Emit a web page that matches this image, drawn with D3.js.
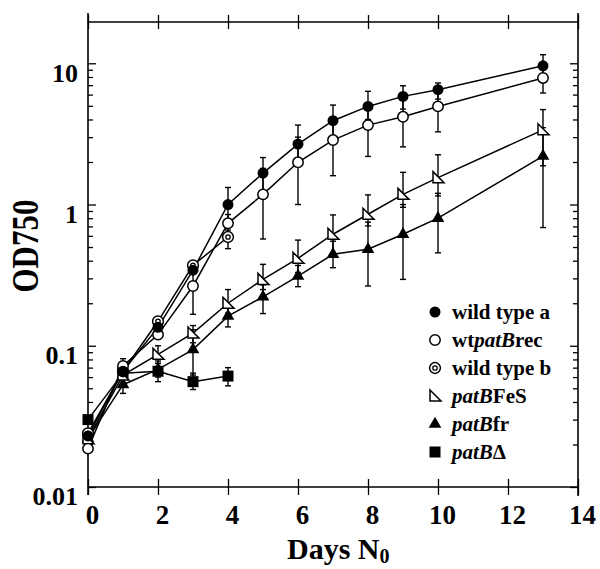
<!DOCTYPE html>
<html><head><meta charset="utf-8">
<script src="https://cdn.jsdelivr.net/npm/d3@7"></script>
<style>
html,body{margin:0;padding:0;background:#fff;}
svg{display:block;}
text{font-family:"Liberation Serif","Times New Roman",serif;font-weight:bold;fill:#000;}
</style></head>
<body>
<svg id="chart" width="600" height="569"></svg>
<script>
// ---------- data ----------
const daysLong = [0, 1, 2, 3, 4, 5, 6, 7, 8, 9, 10, 13];
const daysShort = [0, 1, 2, 3, 4];

const wildTypeA    = [0.023, 0.066, 0.135, 0.343, 1.0, 1.67, 2.68, 3.92, 4.95, 5.83, 6.5, 9.6];
const wildTypeALo  = [null, null, null, null, 0.75, 1.25, 2.0, 3.0, 4.0, 4.74, 5.58, 8.0];
const wildTypeAHi  = [null, null, null, null, 1.32, 2.15, 3.65, 5.06, 6.33, 6.93, 7.25, 11.5];

const wtPatBRec    = [0.0187, 0.072, 0.12, 0.265, 0.736, 1.18, 1.99, 2.86, 3.65, 4.18, 4.95, 7.87];
const wtPatBRecLo  = [null, 0.064, null, 0.167, 0.62, 0.57, 1.0, 1.6, 2.19, 2.56, 3.27, 6.16];
const wtPatBRecHi  = [null, 0.081, null, 0.36, 0.85, 1.8, 3.0, 4.0, 5.1, 5.8, 6.6, 9.5];

const wildTypeB    = [0.024, 0.066, 0.149, 0.371, 0.589];
const wildTypeBLo  = [null, null, null, null, 0.487];
const wildTypeBHi  = [null, null, null, null, 0.66];

const patBFeS      = [0.022, 0.062, 0.087, 0.123, 0.20, 0.295, 0.416, 0.616, 0.853, 1.18, 1.55, 3.38];
const patBFeSLo    = [null, null, 0.075, 0.105, 0.17, 0.25, 0.33, 0.45, 0.705, 0.956, 1.15, 1.88];
const patBFeSHi    = [null, null, 0.1, 0.139, 0.25, 0.377, 0.56, 0.844, 1.17, 1.69, 2.25, 4.7];

const patBfr       = [0.022, 0.053, 0.068, 0.094, 0.162, 0.222, 0.311, 0.444, 0.482, 0.616, 0.8, 2.2];
const patBfrLo     = [null, 0.046, 0.06, 0.062, 0.136, 0.169, 0.262, 0.357, 0.265, 0.295, 0.455, 0.687];
const patBfrHi     = [null, 0.062, 0.075, 0.13, 0.19, 0.27, 0.37, 0.55, 0.75, 1.0, 1.2, 3.5];

const patBDelta    = [0.030, 0.064, 0.066, 0.0557, 0.061];
const patBDeltaLo  = [null, null, 0.0557, 0.049, 0.052];
const patBDeltaHi  = [null, null, 0.078, 0.064, 0.070];

const xTicks = [0, 2, 4, 6, 8, 10, 12, 14];
const yTicks = [0.01, 0.1, 1, 10];
const yTickLabels = ["0.01", "0.1", "1", "10"];

// ---------- layout ----------
const svg = d3.select("#chart");
const L = 88, R = 578, T = 22, B = 487;
const x = d3.scaleLinear().domain([0, 14]).range([L, R]);
const y = d3.scaleLog().domain([0.01, 19.6]).range([B, T]);

const series = [
  {name: "wild type a", shape: "fcircle", days: daysLong, v: wildTypeA, lo: wildTypeALo, hi: wildTypeAHi},
  {name: "wtpatBrec", shape: "ocircle", days: daysLong, v: wtPatBRec, lo: wtPatBRecLo, hi: wtPatBRecHi},
  {name: "wild type b", shape: "dcircle", days: daysShort, v: wildTypeB, lo: wildTypeBLo, hi: wildTypeBHi},
  {name: "patBFeS", shape: "otri", days: daysLong, v: patBFeS, lo: patBFeSLo, hi: patBFeSHi},
  {name: "patBfr", shape: "ftri", days: daysLong, v: patBfr, lo: patBfrLo, hi: patBfrHi},
  {name: "patBΔ", shape: "fsquare", days: daysShort, v: patBDelta, lo: patBDeltaLo, hi: patBDeltaHi}
];

// minor log ticks
const minor = [];
[0.01, 0.1, 1, 10].forEach(d => { for (let k = 2; k <= 9; k++) { const v = d * k; if (v <= 19.6) minor.push(v); } });

// ---------- axes ----------
const gLeft = svg.append("g").attr("transform", `translate(${L},0)`)
  .call(d3.axisLeft(y).tickValues(yTicks).tickSize(-8).tickSizeOuter(0).tickPadding(10)
    .tickFormat((d, i) => yTickLabels[i]));
gLeft.selectAll("text").attr("dy", "0.69em").style("font-size", "26px");
svg.append("g").attr("transform", `translate(${L},0)`)
  .call(d3.axisLeft(y).tickValues(minor).tickSize(-5).tickSizeOuter(0).tickFormat(""));

svg.append("g").attr("transform", `translate(${R},0)`)
  .call(d3.axisRight(y).tickValues(yTicks).tickSize(-8).tickSizeOuter(0).tickFormat(""));
svg.append("g").attr("transform", `translate(${R},0)`)
  .call(d3.axisRight(y).tickValues(minor).tickSize(-5).tickSizeOuter(0).tickFormat(""));

const gBot = svg.append("g").attr("transform", `translate(0,${B})`)
  .call(d3.axisBottom(x).tickValues(xTicks).tickSize(8).tickSizeOuter(0).tickPadding(10).tickFormat(d3.format("d")));
gBot.selectAll("line").attr("y1", -8);
gBot.selectAll("text").attr("dx", 4).style("font-size", "27px");

const gTop = svg.append("g").attr("transform", `translate(0,${T})`)
  .call(d3.axisTop(x).tickValues(xTicks).tickSize(7).tickSizeOuter(0).tickFormat(""));
gTop.selectAll("line").attr("y1", 7);

svg.selectAll(".domain").remove();
svg.selectAll(".tick line").attr("stroke", "#000").attr("stroke-width", 1.3);

// frame
const frame = svg.append("g").attr("stroke", "#000").attr("stroke-width", 1.6).attr("fill", "none");
frame.append("line").attr("x1", L).attr("x2", L).attr("y1", 13).attr("y2", 495);
frame.append("line").attr("x1", R).attr("x2", R).attr("y1", 13).attr("y2", 496);
frame.append("line").attr("x1", L).attr("x2", R).attr("y1", T).attr("y2", T);
frame.append("line").attr("x1", L).attr("x2", R).attr("y1", B).attr("y2", B);

// ---------- axis titles ----------
const xt = svg.append("text").attr("x", 287).attr("y", 559).style("font-size", "30px");
xt.append("tspan").text("Days N");
xt.append("tspan").attr("dy", 4).style("font-size", "20px").text("0");

svg.append("text").attr("transform", "translate(38,246) rotate(-90)")
  .attr("text-anchor", "middle").style("font-size", "37px")
  .attr("textLength", 93).attr("lengthAdjust", "spacingAndGlyphs").text("OD750");

// ---------- marks ----------
const plot = svg.append("g");
const line = d3.line().x(d => x(d.d)).y(d => y(d.v));

series.forEach(s => {
  s.pts = s.days.map((d, i) => ({d: d, v: s.v[i], lo: s.lo[i], hi: s.hi[i]}));
});

// lines
series.forEach(s => {
  plot.append("path").datum(s.pts).attr("d", line)
    .attr("fill", "none").attr("stroke", "#000").attr("stroke-width", 1.5);
});

// error bars
series.forEach(s => {
  const eb = plot.append("g").attr("stroke", "#000").attr("stroke-width", 1.4);
  s.pts.filter(p => p.lo != null).forEach(p => {
    const cx = x(p.d);
    eb.append("line").attr("x1", cx).attr("x2", cx).attr("y1", y(p.lo)).attr("y2", y(p.hi));
    eb.append("line").attr("x1", cx - 3).attr("x2", cx + 3).attr("y1", y(p.lo)).attr("y2", y(p.lo));
    eb.append("line").attr("x1", cx - 3).attr("x2", cx + 3).attr("y1", y(p.hi)).attr("y2", y(p.hi));
  });
});

function drawMarker(g, shape) {
  if (shape === "fcircle") {
    g.append("circle").attr("r", 5.5).attr("fill", "#000");
  } else if (shape === "ocircle") {
    g.append("circle").attr("r", 5.2).attr("fill", "#fff").attr("stroke", "#000").attr("stroke-width", 1.5);
  } else if (shape === "dcircle") {
    g.append("circle").attr("r", 5.4).attr("fill", "#fff").attr("stroke", "#000").attr("stroke-width", 1.5);
    g.append("circle").attr("r", 2.2).attr("fill", "#fff").attr("stroke", "#000").attr("stroke-width", 1.3);
  } else if (shape === "otri") {
    g.append("path").attr("d", "M-5,-6L-5,5L6,5Z").attr("fill", "#fff").attr("stroke", "#000").attr("stroke-width", 1.5);
  } else if (shape === "ftri") {
    g.append("path").attr("d", d3.symbol().type(d3.symbolTriangle).size(70)()).attr("fill", "#000");
  } else if (shape === "fsquare") {
    g.append("rect").attr("x", -5.5).attr("y", -5.5).attr("width", 11).attr("height", 11).attr("fill", "#000");
  }
}

// draw markers: back series first so wild type a ends on top
[5, 4, 3, 2, 1, 0].forEach(k => {
  const s = series[k];
  s.pts.forEach(p => {
    const g = plot.append("g").attr("transform", `translate(${x(p.d)},${y(p.v)})`);
    drawMarker(g, s.shape);
  });
});

// ---------- legend ----------
const legRows = [
  {shape: "fcircle", parts: [["wild type a", false]]},
  {shape: "ocircle", parts: [["wt", false], ["patB", true], ["rec", false]]},
  {shape: "dcircle", parts: [["wild type b", false]]},
  {shape: "otri", parts: [["patB", true], ["FeS", false]]},
  {shape: "ftri", parts: [["patB", true], ["fr", false]]},
  {shape: "fsquare", parts: [["patB", true], ["Δ", false]]}
];
const leg = svg.append("g");
legRows.forEach((r, i) => {
  const cy = 312 + i * 28;
  const g = leg.append("g").attr("transform", `translate(435,${cy})`);
  drawMarker(g, r.shape);
  const t = leg.append("text").attr("x", 452).attr("y", cy + 7).style("font-size", "21px");
  r.parts.forEach(p => t.append("tspan").style("font-style", p[1] ? "italic" : "normal").text(p[0]));
});
</script>
</body></html>
